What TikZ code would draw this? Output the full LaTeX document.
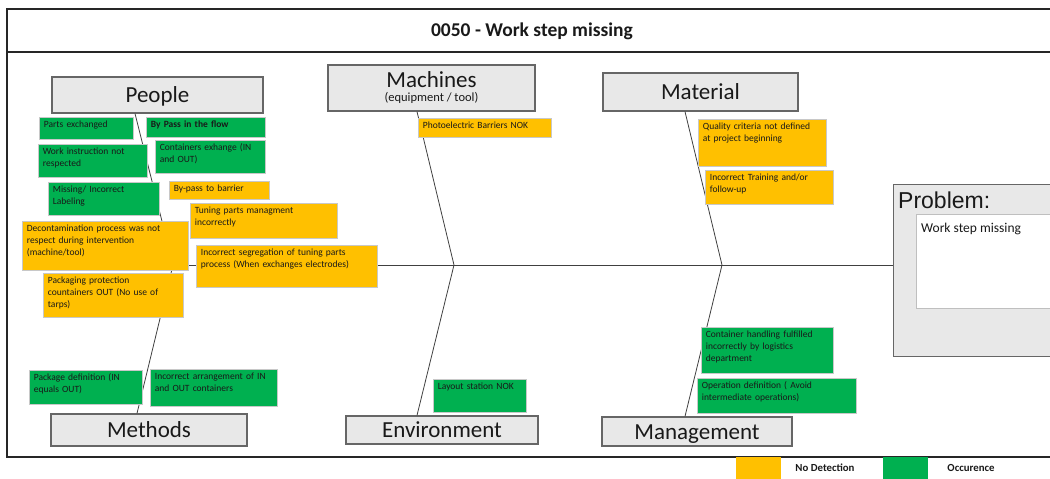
\documentclass[tikz,border=0pt]{standalone}
\usepackage{fontspec}
\setmainfont{Carlito}
\newfontfamily\arialfont{Liberation Sans}
\usepackage{tikz}
\definecolor{nodetect}{HTML}{FFC000}
\definecolor{occurence}{HTML}{00B050}
\definecolor{catfill}{HTML}{E8E8E8}
\definecolor{catline}{HTML}{666666}
\definecolor{causeline}{HTML}{C8C8C8}
\newcommand\causefont{\fontsize{9.5}{12}\selectfont}
\tikzset{
	fishbone/.style={
		x=1pt, y=-1pt,
		bone/.style={draw=black!75, line width=0.8pt},
		frame/.style={draw=black!85, line width=1.6pt},
		every node/.style={text=black!90}
		},
	nodet/.style={fill=nodetect},
	occur/.style={fill=occurence},
	cause/.code 2 args={
		\pgfmathsetlengthmacro{\causetw}{#1-9pt}
		\pgfmathsetlengthmacro{\causedp}{#2-13pt}
		\pgfkeysalso{draw=causeline, line width=0.8pt, anchor=north west,
			inner xsep=4.5pt, inner ysep=3pt, minimum width=#1,
			text width=\causetw, text height=7pt, text depth=\causedp,
			align=left, font=\causefont}
	},
	category/.style={draw=catline, fill=catfill, line width=1.2pt, inner sep=0pt,
		text height=16pt, text depth=1pt, font=\fontsize{23}{26}\selectfont},
	legendkey/.style={minimum width=45, minimum height=22, inner sep=0pt},
	legendname/.style={font=\bfseries\fontsize{10.8}{13}\selectfont}
}

\begin{document}
\begin{tikzpicture}[fishbone]
	\useasboundingbox (0,0) rectangle (1050,479);
	\draw[frame] (7,9) rectangle (1080,457);
	\draw[frame] (7,52) -- (1080,52);
	\node[font=\bfseries\fontsize{19.5}{22}\selectfont] (title) at (532,31) {0050 - Work step missing};

	% heads of the bones
	\node[category, minimum width=211, minimum height=36] (people) at (157.5,95) {People};
	\node[category, minimum width=207, minimum height=46] (machines) at (431.5,88) {};
	\node[anchor=base, inner sep=0pt, text depth=0pt, font=\fontsize{23}{26}\selectfont] (machinesname) at (431.5,87.5) {Machines};
	\node[anchor=base, inner sep=0pt, text height=8pt, font=\fontsize{12.5}{14}\selectfont] (machinessub) at (431.5,101.5) {(equipment / tool)};
	\node[category, minimum width=195, minimum height=38] (material) at (700.5,92) {Material};
	\node[category, minimum width=196, minimum height=32] (methods) at (149,430) {Methods};
	\node[category, minimum width=192, minimum height=28] (environment) at (442,430) {Environment};
	\node[category, minimum width=190, minimum height=29] (management) at (697,431.5) {Management};
	\node[draw=catline, fill=catfill, line width=1.2pt, anchor=north west,
		minimum width=200, minimum height=172] (problem) at (893,184) {};
	\node[anchor=base west, inner sep=0pt, font=\arialfont\fontsize{23}{26}\selectfont] (problemname) at (898,208) {Problem:};
	\node[draw=black!25, fill=white, line width=0.6pt, anchor=north west,
		minimum width=160, minimum height=94] (problembox) at (916,214) {};
	\node[anchor=base west, inner sep=0pt, font=\fontsize{13.5}{16}\selectfont] (problemtext) at (921,232) {Work step missing};

	% spine and bones
	\coordinate (j1) at (173,265);
	\coordinate (j2) at (454,265);
	\coordinate (j3) at (722,265);
	\draw[bone] (j1) -- (j1 -| problem.west);
	\draw[bone] (135,0 |- people.south) -- (j1) -- (137,0 |- methods.north);
	\draw[bone] (417,0 |- machines.south) -- (j2) -- (417,0 |- environment.north);
	\draw[bone] (685,0 |- material.south) -- (j3) -- (685,0 |- management.north);

	% causes
	\node[cause={94}{22}, occur] (c1) at (39,117) {Parts exchanged};
	\node[cause={119}{20}, occur] (c2) at (146,117) {\bfseries By Pass in the flow};
	\node[cause={109}{33}, occur] (c3) at (38,144) {Work instruction not\\respected};
	\node[cause={110}{33}, occur] (c4) at (155,140) {Containers exhange (IN\\and OUT)};
	\node[cause={111}{33}, occur] (c5) at (48,182) {Missing/ Incorrect\\Labeling};
	\node[cause={100}{18}, nodet] (c6) at (169,181) {By-pass to barrier};
	\node[cause={147}{35}, nodet] (c7) at (190,203) {Tuning parts managment\\incorrectly};
	\node[cause={166}{49}, nodet] (c8) at (22,221) {Decontamination process was not\\respect during intervention\\(machine/tool)};
	\node[cause={181}{42}, nodet] (c9) at (196,245) {Incorrect segregation of tuning parts\\process (When exchanges electrodes)};
	\node[cause={140}{44}, nodet] (c10) at (43,273) {Packaging protection\\countainers OUT (No use of\\tarps)};
	\node[cause={113}{34}, occur] (c11) at (29,370) {Package definition (IN\\equals OUT)};
	\node[cause={127}{37}, occur] (c12) at (150,369) {Incorrect arrangement of IN\\and OUT containers};
	\node[cause={133}{19}, nodet] (c13) at (418,118) {Photoelectric Barriers NOK};
	\node[cause={93}{33}, occur] (c14) at (433,379) {Layout station NOK};
	\node[cause={128}{47}, nodet] (c15) at (698,119) {Quality criteria not defined\\at project beginning};
	\node[cause={128}{34}, nodet] (c16) at (705,170) {Incorrect Training and/or\\follow-up};
	\node[cause={132}{46}, occur] (c17) at (701,327) {Container handling fulfilled\\incorrectly by logistics\\department};
	\node[cause={159}{35}, occur] (c18) at (697,378) {Operation definition ( Avoid\\intermediate operations)};

	% key
	\node[legendkey, nodet] (keynodet) at (758.5,468) {};
	\node[legendname] (keynodetname) at (825,468) {No Detection};
	\node[legendkey, occur] (keyoccur) at (905.5,468) {};
	\node[legendname] (keyoccurname) at (971,468) {Occurence};
\end{tikzpicture}
\end{document}
